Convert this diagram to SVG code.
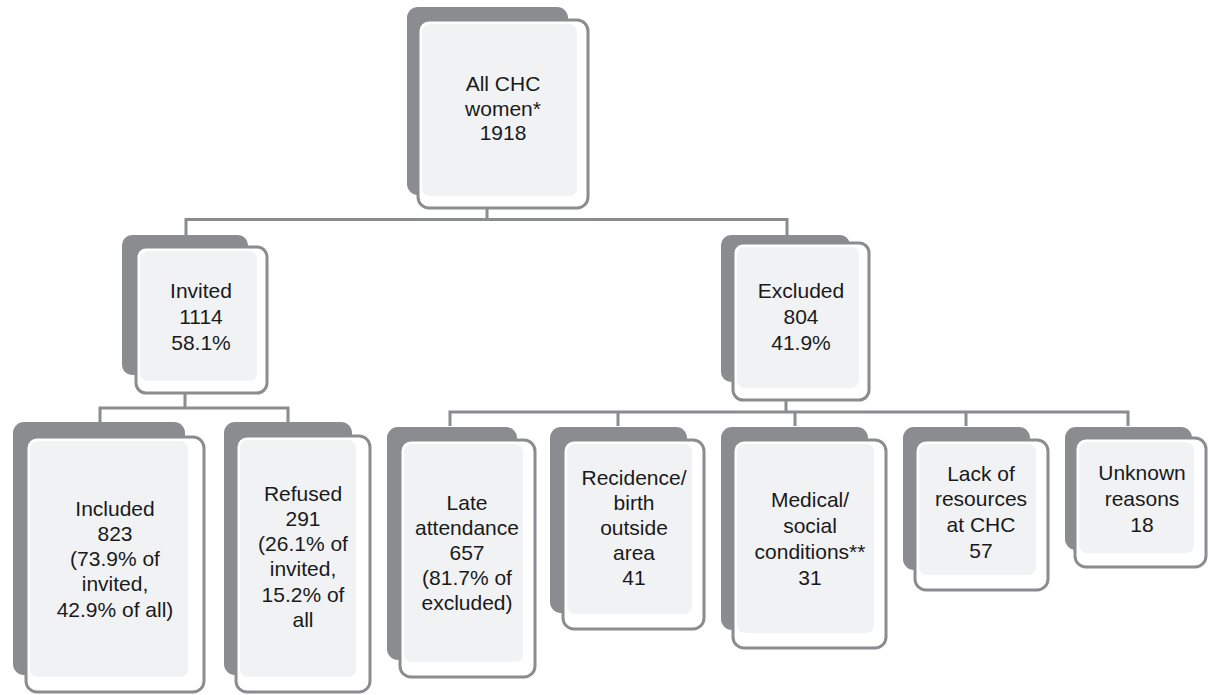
<svg xmlns="http://www.w3.org/2000/svg" width="1208" height="695" viewBox="0 0 1208 695">
<style>
.bg{fill:#ffffff}
.sh{fill:#8b8c8f}
.fr{fill:#ffffff;stroke:#8b8c8f;stroke-width:3}
.in{fill:#f1f2f4}
.cn{fill:none;stroke:#8b8c8f;stroke-width:3}
.tx{font-family:"Liberation Sans",Arial,Helvetica,sans-serif;font-size:21px;fill:#1a1a1a;text-anchor:middle}
</style>
<rect class="bg" x="0" y="0" width="1208" height="695"/>
<g id="connectors">
<path class="cn" d="M487,208 V219.5 M186,235 V219.5 H787 V235"/>
<path class="cn" d="M185,393 V408 M100,422 V408 H288 V422"/>
<path class="cn" d="M786,400 V412 M450,426 V412 H1128 V426 M618,412 V426 M795,412 V426 M966,412 V426"/>
</g>
<g id="node-all">
<rect class="sh" x="407" y="7" width="161" height="188" rx="11"/>
<rect class="fr" x="418" y="20" width="170" height="188" rx="11"/>
<rect class="in" x="422" y="24" width="155" height="172" rx="8"/>
<text class="tx" x="503" y="91"><tspan x="503">All CHC</tspan><tspan x="503" dy="24.5">women*</tspan><tspan x="503" dy="24.5">1918</tspan></text>
</g>
<g id="node-invited">
<rect class="sh" x="122" y="235" width="126" height="140" rx="10"/>
<rect class="fr" x="136" y="247" width="131" height="146" rx="10"/>
<rect class="in" x="140" y="251" width="117" height="130" rx="8"/>
<text class="tx" x="201" y="297.5"><tspan x="201">Invited</tspan><tspan x="201" dy="26">1114</tspan><tspan x="201" dy="26">58.1%</tspan></text>
</g>
<g id="node-excluded">
<rect class="sh" x="721" y="235" width="129" height="147" rx="10"/>
<rect class="fr" x="733" y="243" width="136" height="157" rx="10"/>
<rect class="in" x="737" y="247" width="122" height="141" rx="8"/>
<text class="tx" x="801" y="297.5"><tspan x="801">Excluded</tspan><tspan x="801" dy="26">804</tspan><tspan x="801" dy="26">41.9%</tspan></text>
</g>
<g id="node-included">
<rect class="sh" x="13" y="422" width="172" height="253" rx="11"/>
<rect class="fr" x="26" y="437" width="178" height="255" rx="11"/>
<rect class="in" x="30" y="441" width="158" height="236" rx="8"/>
<text class="tx" x="115" y="515.5"><tspan x="115">Included</tspan><tspan x="115" dy="25.3">823</tspan><tspan x="115" dy="25.3">(73.9% of</tspan><tspan x="115" dy="25.3">invited,</tspan><tspan x="115" dy="25.3">42.9% of all)</tspan></text>
</g>
<g id="node-refused">
<rect class="sh" x="224" y="422" width="128" height="253" rx="11"/>
<rect class="fr" x="236" y="436" width="134" height="256" rx="11"/>
<rect class="in" x="240" y="440" width="116" height="237" rx="8"/>
<text class="tx" x="303" y="500.5"><tspan x="303">Refused</tspan><tspan x="303" dy="25.3">291</tspan><tspan x="303" dy="25.3">(26.1% of</tspan><tspan x="303" dy="25.3">invited,</tspan><tspan x="303" dy="25.3">15.2% of</tspan><tspan x="303" dy="25.3">all</tspan></text>
</g>
<g id="node-late">
<rect class="sh" x="387" y="427" width="130" height="233" rx="11"/>
<rect class="fr" x="400" y="440" width="135" height="237" rx="11"/>
<rect class="in" x="404" y="444" width="119" height="218" rx="8"/>
<text class="tx" x="467" y="509.5"><tspan x="467">Late</tspan><tspan x="467" dy="25.2">attendance</tspan><tspan x="467" dy="25.2">657</tspan><tspan x="467" dy="25.2">(81.7% of</tspan><tspan x="467" dy="25.2">excluded)</tspan></text>
</g>
<g id="node-residence">
<rect class="sh" x="550" y="427" width="137" height="186" rx="11"/>
<rect class="fr" x="563" y="440" width="141" height="189" rx="11"/>
<rect class="in" x="567" y="444" width="125" height="170" rx="8"/>
<text class="tx" x="634" y="484.5"><tspan x="634">Recidence/</tspan><tspan x="634" dy="25.2">birth</tspan><tspan x="634" dy="25.2">outside</tspan><tspan x="634" dy="25.2">area</tspan><tspan x="634" dy="25.2">41</tspan></text>
</g>
<g id="node-medical">
<rect class="sh" x="721" y="427" width="147" height="203" rx="11"/>
<rect class="fr" x="733" y="440" width="153" height="208" rx="11"/>
<rect class="in" x="737" y="444" width="137" height="189" rx="8"/>
<text class="tx" x="810" y="506.5"><tspan x="810">Medical/</tspan><tspan x="810" dy="26">social</tspan><tspan x="810" dy="26">conditions**</tspan><tspan x="810" dy="26">31</tspan></text>
</g>
<g id="node-lack">
<rect class="sh" x="903" y="427" width="127" height="143" rx="11"/>
<rect class="fr" x="915" y="440" width="133" height="150" rx="11"/>
<rect class="in" x="919" y="444" width="117" height="131" rx="8"/>
<text class="tx" x="981" y="480.5"><tspan x="981">Lack of</tspan><tspan x="981" dy="25.7">resources</tspan><tspan x="981" dy="25.7">at CHC</tspan><tspan x="981" dy="25.7">57</tspan></text>
</g>
<g id="node-unknown">
<rect class="sh" x="1065" y="427" width="127" height="123" rx="11"/>
<rect class="fr" x="1075" y="438" width="131" height="129" rx="11"/>
<rect class="in" x="1079" y="442" width="115" height="111" rx="8"/>
<text class="tx" x="1142" y="479.5"><tspan x="1142">Unknown</tspan><tspan x="1142" dy="26">reasons</tspan><tspan x="1142" dy="26">18</tspan></text>
</g>
</svg>
